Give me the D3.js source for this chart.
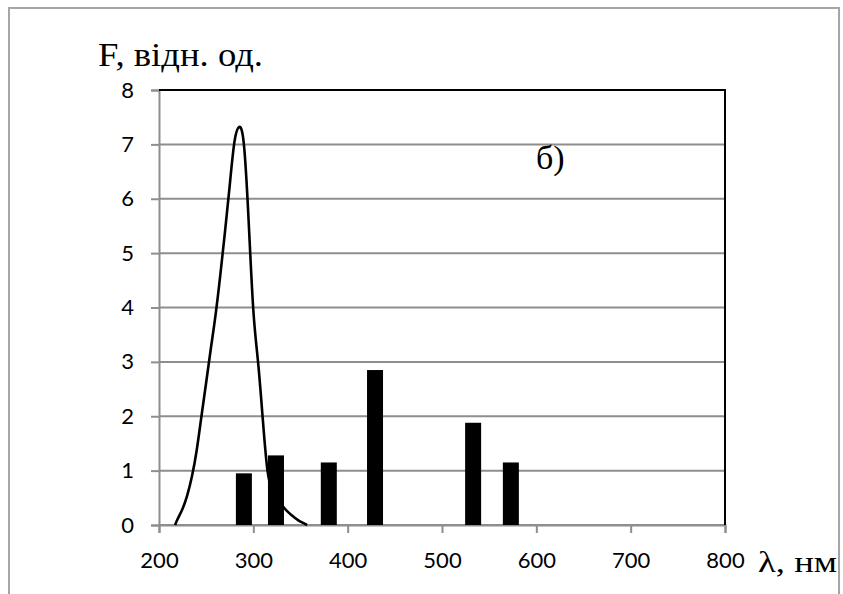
<!DOCTYPE html>
<html>
<head>
<meta charset="utf-8">
<script src="https://cdn.jsdelivr.net/npm/d3@7"></script>
<style>
  html, body { margin: 0; padding: 0; background: #fff; }
  svg { display: block; }
</style>
</head>
<body>
<svg id="chart" width="843" height="594"></svg>
<script>
// Emission lines (bars): wavelength, nm and relative intensity
const barWavelengths = [290, 324, 380, 429, 533, 573];
const barValues      = [0.95, 1.28, 1.15, 2.85, 1.88, 1.15];

// Excitation band (smooth curve): wavelength, nm and relative intensity
const curveWavelengths = [217, 220, 225, 230, 235, 240, 245, 250, 255, 260, 265, 270, 275, 280, 285, 290, 295, 300, 305, 310, 315, 320, 325, 330, 335, 340, 345, 350, 357];
const curveValues      = [0, 0.12, 0.3, 0.55, 0.9, 1.38, 2.0, 2.62, 3.25, 3.87, 4.6, 5.4, 6.25, 7.05, 7.32, 7.0, 5.6, 3.95, 3.0, 1.95, 1.0, 0.65, 0.5, 0.37, 0.27, 0.19, 0.12, 0.06, 0];

// Axis ticks
const xTicks = [200, 300, 400, 500, 600, 700, 800];
const yTicks = [0, 1, 2, 3, 4, 5, 6, 7, 8];

const yAxisTitle = "F, відн. од.";
const xAxisTitle = "λ, нм";
const panelLabel = "б)";

const svg = d3.select("#chart");
const plotLeft = 159, plotRight = 725, plotTop = 90, plotBottom = 525;

const x = d3.scaleLinear().domain([200, 800]).range([plotLeft, plotRight]);
const y = d3.scaleLinear().domain([0, 8]).range([plotBottom, plotTop]);

const gridColor = "#8e8e8e";
const tickFont = "Lato, 'Open Sans', sans-serif";
const serif = "'Liberation Serif', 'Times New Roman', serif";

// outer frame of the figure
svg.append("path")
  .attr("d", `M9,594 V8 H839 V594`)
  .attr("fill", "none")
  .attr("stroke", "#a6a6a6")
  .attr("stroke-width", 2);

// horizontal gridlines
svg.append("g")
  .selectAll("line")
  .data(yTicks)
  .join("line")
  .attr("x1", plotLeft).attr("x2", plotRight)
  .attr("y1", d => y(d)).attr("y2", d => y(d))
  .attr("stroke", gridColor)
  .attr("stroke-width", 2);

// y axis
const yAxis = svg.append("g")
  .attr("transform", `translate(${plotLeft},0)`)
  .call(d3.axisLeft(y).tickValues(yTicks).tickSize(8).tickPadding(17).tickFormat(d3.format("d")));
yAxis.select(".domain").attr("stroke", gridColor).attr("stroke-width", 2);
yAxis.selectAll(".tick line").attr("stroke", gridColor).attr("stroke-width", 2);
yAxis.selectAll(".tick text")
  .attr("font-family", tickFont)
  .attr("font-size", 22)
  .attr("fill", "#000");

// x axis
const xAxis = svg.append("g")
  .attr("transform", `translate(0,${plotBottom})`)
  .call(d3.axisBottom(x).tickValues(xTicks).tickSize(8).tickPadding(19).tickFormat(d3.format("d")));
xAxis.select(".domain").attr("stroke", gridColor).attr("stroke-width", 2);
xAxis.selectAll(".tick line").attr("stroke", gridColor).attr("stroke-width", 2);
xAxis.selectAll(".tick text")
  .attr("font-family", tickFont)
  .attr("font-size", 22)
  .attr("fill", "#000");

// black top and right borders of the plot area
svg.append("path")
  .attr("d", `M${plotLeft},${y(8)} H${x(800)} V${y(0)}`)
  .attr("fill", "none")
  .attr("stroke", "#000")
  .attr("stroke-width", 2);

// excitation curve
const pts = curveWavelengths.map((w, i) => [w, curveValues[i]]);
svg.append("path")
  .datum(pts)
  .attr("fill", "none")
  .attr("stroke", "#000")
  .attr("stroke-width", 2.6)
  .attr("stroke-linejoin", "round")
  .attr("d", d3.line().x(d => x(d[0])).y(d => y(d[1])).curve(d3.curveNatural));

// emission bars
const barW = 16;
svg.append("g")
  .selectAll("rect")
  .data(barWavelengths.map((w, i) => ({ w, v: barValues[i] })))
  .join("rect")
  .attr("x", d => x(d.w) - barW / 2)
  .attr("width", barW)
  .attr("y", d => y(d.v))
  .attr("height", d => y(0) - y(d.v))
  .attr("fill", "#000");

// titles
svg.append("text")
  .attr("x", 98).attr("y", 66)
  .attr("font-family", serif)
  .attr("font-size", 33)
  .attr("textLength", 165)
  .attr("lengthAdjust", "spacingAndGlyphs")
  .attr("fill", "#000")
  .text(yAxisTitle);

svg.append("text")
  .attr("x", 758).attr("y", 572)
  .attr("font-family", serif)
  .attr("font-size", 29)
  .attr("textLength", 79)
  .attr("lengthAdjust", "spacingAndGlyphs")
  .attr("fill", "#000")
  .text(xAxisTitle);

svg.append("text")
  .attr("x", 536).attr("y", 169)
  .attr("font-family", serif)
  .attr("font-size", 34)
  .attr("fill", "#000")
  .text(panelLabel);
</script>
</body>
</html>
